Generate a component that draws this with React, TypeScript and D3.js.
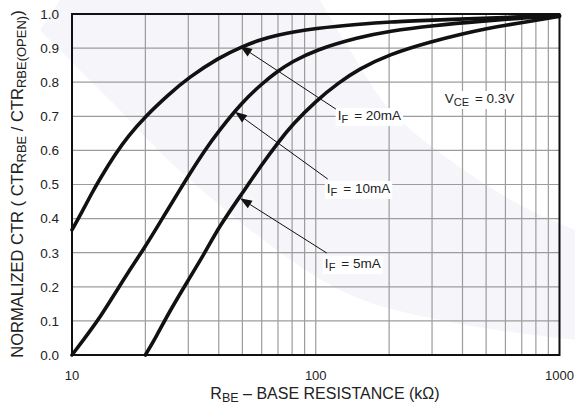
import * as d3 from "d3";
import { useEffect, useRef } from "react";

// IF = 20mA
const rbe20 = [10, 11, 12, 13, 15, 17, 20, 25, 30, 40, 50, 60, 70, 80, 100, 150, 200, 300, 500, 700, 1000];
const ctr20 = [0.367, 0.42, 0.472, 0.516, 0.588, 0.642, 0.7, 0.765, 0.813, 0.872, 0.905, 0.926, 0.938, 0.947, 0.958, 0.97, 0.977, 0.982, 0.988, 0.992, 0.995];
// IF = 10mA
const rbe10 = [10, 12, 13, 15, 17, 20, 23, 28, 30, 35, 40, 50, 60, 70, 80, 100, 150, 200, 300, 500, 700, 1000];
const ctr10 = [0, 0.075, 0.11, 0.18, 0.243, 0.318, 0.39, 0.49, 0.525, 0.6, 0.657, 0.742, 0.795, 0.833, 0.86, 0.895, 0.932, 0.95, 0.966, 0.98, 0.988, 0.995];
// IF = 5mA
const rbe5 = [20, 22, 25, 30, 35, 40, 50, 60, 70, 80, 100, 125, 150, 200, 300, 400, 500, 600, 800, 1000];
const ctr5 = [0, 0.05, 0.125, 0.22, 0.298, 0.375, 0.475, 0.558, 0.623, 0.675, 0.745, 0.8, 0.838, 0.882, 0.92, 0.942, 0.957, 0.967, 0.981, 0.993];

const yTicks = [0, 0.1, 0.2, 0.3, 0.4, 0.5, 0.6, 0.7, 0.8, 0.9, 1.0];
const xLabels = [10, 100, 1000];

// annotation: arrow tip, arrow tail, label anchor (data units)
const notes = [
  { cur: "20mA", tip: [48.9, 0.906], tail: [121, 0.721], at: [123, 0.689] },
  { cur: "10mA", tip: [46.6, 0.713], tail: [112, 0.516], at: [111, 0.475] },
  { cur: "5mA", tip: [48.9, 0.46], tail: [111, 0.299], at: [109, 0.255] },
];

const FONT = "'Liberation Sans', Arial, sans-serif";

export default function App() {
  const ref = useRef<SVGSVGElement>(null);

  useEffect(() => {
    const W = 575, H = 411;
    const margin = { top: 14, right: 15.5, bottom: 56, left: 72 };
    const svg = d3.select(ref.current);
    svg.selectAll("*").remove();

    const x = d3.scaleLog().domain([10, 1000]).range([margin.left, W - margin.right]);
    const y = d3.scaleLinear().domain([0, 1]).range([H - margin.bottom, margin.top]);

    // faint watermark swoosh in the background
    const sw = d3.line().curve(d3.curveCatmullRom);
    const outer = sw([[40, 30], [110, 100], [190, 180], [340, 290], [450, 322], [575, 340]]) as string;
    const inner = sw([[575, 230], [520, 205], [450, 160], [390, 110], [350, 50], [320, 0]]) as string;
    svg.append("path")
      .attr("d", `M60,0 L${outer.slice(1)} L${inner.slice(1)} Z`)
      .attr("fill", "#f6f5f9");

    const g = svg.append("g");

    // grid
    g.selectAll("line.vx")
      .data(x.ticks())
      .enter()
      .append("line")
      .attr("x1", (d) => x(d))
      .attr("x2", (d) => x(d))
      .attr("y1", y(0))
      .attr("y2", y(1))
      .attr("stroke", "#9c9c9c")
      .attr("stroke-width", 1.2);

    g.selectAll("line.hy")
      .data(yTicks)
      .enter()
      .append("line")
      .attr("x1", x(10))
      .attr("x2", x(1000))
      .attr("y1", (d) => y(d))
      .attr("y2", (d) => y(d))
      .attr("stroke", "#9c9c9c")
      .attr("stroke-width", 1.2);

    // tick labels
    g.selectAll("text.yt")
      .data(yTicks)
      .enter()
      .append("text")
      .attr("x", 59)
      .attr("y", (d) => y(d))
      .attr("dy", "0.36em")
      .attr("text-anchor", "end")
      .attr("font-size", 13.5)
      .attr("fill", "#222")
      .text((d) => d.toFixed(1));

    g.selectAll("text.xt")
      .data(xLabels)
      .enter()
      .append("text")
      .attr("x", (d) => x(d))
      .attr("y", 380)
      .attr("text-anchor", "middle")
      .attr("font-size", 13)
      .attr("fill", "#222")
      .text((d) => d);

    // labels with white boxes behind them
    const label = (px: number, py: number, main: string, sub: string, rest: string) => {
      const t = g.append("text")
        .attr("x", px)
        .attr("y", py)
        .attr("font-size", 13.5)
        .attr("fill", "#222");
      t.append("tspan").text(main);
      t.append("tspan").attr("dy", 3).attr("font-size", 11).text(sub);
      t.append("tspan").attr("dy", -3).attr("dx", 6).text(rest);
      const b = (t.node() as SVGTextElement).getBBox();
      g.insert("rect", () => t.node())
        .attr("x", b.x - 2)
        .attr("y", b.y)
        .attr("width", b.width + 4)
        .attr("height", b.height + 1)
        .attr("fill", "#fff");
    };

    notes.forEach((n) => label(x(n.at[0]), y(n.at[1]), "I", "F", "= " + n.cur));
    label(x(338), y(0.739), "V", "CE", "= 0.3V");

    // curves
    const line = d3.line<[number, number]>()
      .x((d) => x(d[0]))
      .y((d) => y(d[1]))
      .curve(d3.curveBasis);

    const series = [
      d3.zip(rbe20, ctr20),
      d3.zip(rbe10, ctr10),
      d3.zip(rbe5, ctr5),
    ];
    g.selectAll("path.curve")
      .data(series)
      .enter()
      .append("path")
      .attr("d", (d) => line(d as [number, number][]))
      .attr("fill", "none")
      .attr("stroke", "#111")
      .attr("stroke-width", 3.6)
      .attr("stroke-linecap", "round");

    // arrows
    notes.forEach((n) => {
      const tx = x(n.tip[0]), ty = y(n.tip[1]);
      const sx = x(n.tail[0]), sy = y(n.tail[1]);
      const a = Math.atan2(sy - ty, sx - tx);
      const len = 12, hw = 4.5;
      const bx = tx + len * Math.cos(a), by = ty + len * Math.sin(a);
      g.append("line")
        .attr("x1", bx).attr("y1", by)
        .attr("x2", sx).attr("y2", sy)
        .attr("stroke", "#111")
        .attr("stroke-width", 1);
      g.append("path")
        .attr("d", `M${tx},${ty} L${bx - hw * Math.sin(a)},${by + hw * Math.cos(a)} L${bx + hw * Math.sin(a)},${by - hw * Math.cos(a)} Z`)
        .attr("fill", "#111");
    });

    // frame
    g.append("rect")
      .attr("x", x(10))
      .attr("y", y(1))
      .attr("width", x(1000) - x(10))
      .attr("height", y(0) - y(1))
      .attr("fill", "none")
      .attr("stroke", "#111")
      .attr("stroke-width", 2);

    // axis titles
    const xt = g.append("text")
      .attr("x", 325)
      .attr("y", 399)
      .attr("text-anchor", "middle")
      .attr("font-size", 16)
      .attr("fill", "#222");
    xt.append("tspan").text("R");
    xt.append("tspan").attr("dy", 3).attr("font-size", 12.5).text("BE");
    xt.append("tspan").attr("dy", -3).text(" \u2013 BASE RESISTANCE (k\u03a9)");

    const yt = g.append("text")
      .attr("transform", "translate(23,184) rotate(-90)")
      .attr("text-anchor", "middle")
      .attr("font-size", 16.5)
      .attr("fill", "#222");
    yt.append("tspan").text("NORMALIZED CTR ( CTR");
    yt.append("tspan").attr("dy", 3).attr("font-size", 13).text("RBE");
    yt.append("tspan").attr("dy", -3).text(" / CTR");
    yt.append("tspan").attr("dy", 3).attr("font-size", 13).text("RBE(OPEN)");
    yt.append("tspan").attr("dy", -3).text(")");
  }, []);

  return (
    <svg
      ref={ref}
      width={575}
      height={411}
      style={{ position: "absolute", left: 0, top: 0, background: "#fff", fontFamily: FONT }}
    />
  );
}
